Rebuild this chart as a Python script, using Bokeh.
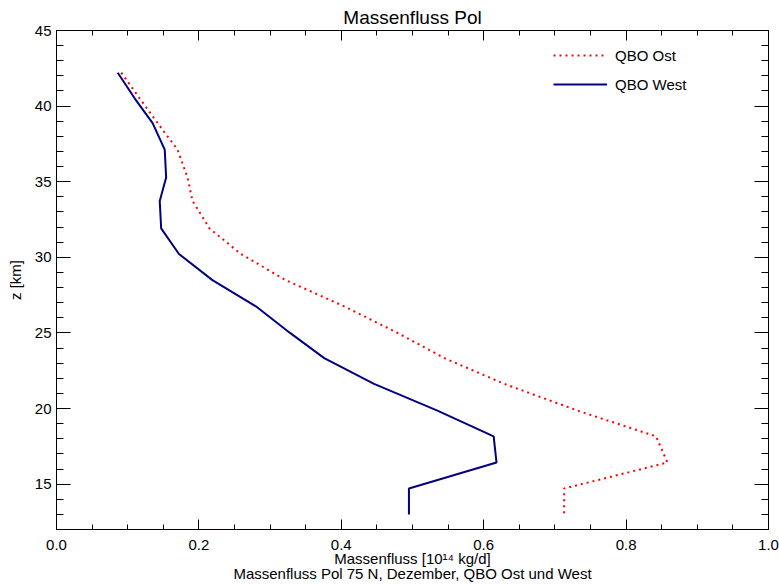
from bokeh.plotting import figure
from bokeh.models import (LinearAxis, FixedTicker, PrintfTickFormatter, Range1d,
                          Legend, LegendItem, CustomJSTickFormatter)
from bokeh.embed import file_html
from bokeh.resources import INLINE

# ---- data ----
z_km = [42.21, 40.5, 38.88, 37.12, 35.28, 33.73, 31.91, 30.22, 28.49, 26.76,
        25.0, 23.33, 21.63, 19.86, 18.16, 16.43, 14.71, 13.0]
qbo_west = [0.086, 0.110, 0.135, 0.152, 0.154, 0.145, 0.147, 0.172, 0.219, 0.280,
            0.328, 0.376, 0.446, 0.535, 0.614, 0.618, 0.495, 0.495]
qbo_ost = [0.091, 0.117, 0.142, 0.170, 0.184, 0.191, 0.215, 0.259, 0.322, 0.404,
           0.479, 0.545, 0.629, 0.732, 0.842, 0.858, 0.713, 0.713]

x_ticks = [0.0, 0.2, 0.4, 0.6, 0.8, 1.0]
x_minor = [i * 0.05 for i in range(21)]
y_ticks = [15, 20, 25, 30, 35, 40, 45]
y_minor = list(range(12, 46))

title_text = "Massenfluss Pol"
x_label = "Massenfluss [10\u00b9\u2074 kg/d]\nMassenfluss Pol 75 N, Dezember, QBO Ost und West"
y_label = "z [km]"
labels = ["QBO Ost", "QBO West"]

FONT = "Liberation Sans"

p = figure(width=779, height=587, output_backend="svg", toolbar_location=None,
           x_range=Range1d(0, 1.0), y_range=Range1d(12, 45),
           min_border_left=56, min_border_right=11, min_border_top=30,
           min_border_bottom=58)
p.grid.visible = False
p.outline_line_color = None
p.background_fill_color = "white"
p.border_fill_color = "white"

p.title.text = title_text
p.title.align = "center"
p.title.text_font = FONT
p.title.text_font_size = "19px"
p.title.text_font_style = "normal"
p.title.text_color = "black"
p.title.standoff = 6

r_ost = p.line(qbo_ost, z_km, line_color="#ff0000", line_width=2, line_dash="2 4")
r_west = p.line(qbo_west, z_km, line_color="#000080", line_width=2)

def style(ax, ticks, minor, fmt, tick_len, show_labels):
    ax.ticker = FixedTicker(ticks=ticks, minor_ticks=minor)
    ax.axis_line_color = "black"
    ax.axis_line_width = 1
    ax.major_tick_line_color = "black"
    ax.minor_tick_line_color = "black"
    ax.major_tick_in = tick_len
    ax.major_tick_out = 0
    ax.minor_tick_in = tick_len // 2
    ax.minor_tick_out = 0
    ax.major_label_text_font = FONT
    ax.major_label_text_color = "black"
    ax.axis_label_text_font = FONT
    ax.axis_label_text_font_style = "normal"
    ax.axis_label_text_color = "black"
    ax.major_label_text_font_size = "15px"
    ax.axis_label_text_font_size = "15px"
    if show_labels:
        ax.formatter = PrintfTickFormatter(format=fmt)
    else:
        ax.formatter = CustomJSTickFormatter(code="return '';")
        ax.major_label_standoff = 0

xb = p.xaxis[0]
yl = p.yaxis[0]
style(xb, x_ticks, x_minor, "%.1f", 10, True)
style(yl, y_ticks, y_minor, "%d", 14, True)
xb.axis_label = x_label
xb.axis_label_standoff = -3
xb.major_label_standoff = 10
xb.axis_label_text_line_height = 0.9
yl.axis_label = y_label
yl.major_label_standoff = 5
yl.axis_label_standoff = 8

xt = LinearAxis()
style(xt, x_ticks, x_minor, "%.1f", 10, False)
p.add_layout(xt, "above")
yr = LinearAxis()
style(yr, y_ticks, y_minor, "%d", 14, False)
p.add_layout(yr, "right")

legend = Legend(items=[LegendItem(label=labels[0], renderers=[r_ost]),
                       LegendItem(label=labels[1], renderers=[r_west])],
                location=(497, 435), orientation="vertical",
                border_line_color=None, background_fill_alpha=0,
                padding=0, margin=0, spacing=9,
                glyph_width=54, glyph_height=20, label_height=20,
                label_standoff=8, label_text_font=FONT,
                label_text_font_size="15px", label_text_color="black")
p.add_layout(legend, "center")

open("out.html", "w").write(file_html(p, INLINE))
